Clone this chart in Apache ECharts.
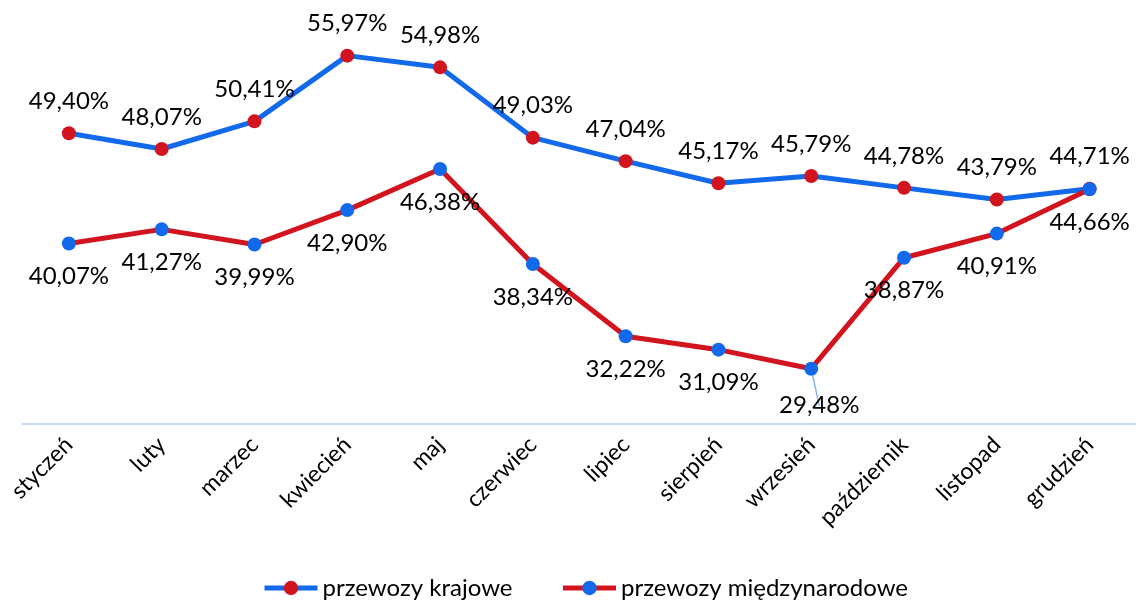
<!DOCTYPE html>
<html><head><meta charset="utf-8">
<script src="https://cdn.jsdelivr.net/npm/echarts@6/dist/echarts.min.js"></script>
<style>html,body{margin:0;padding:0;background:#fff}#c{width:1136px;height:601px}</style>
</head><body><div id="c"></div>
<script>
const categories = ['styczeń','luty','marzec','kwiecień','maj','czerwiec','lipiec','sierpień','wrzesień','październik','listopad','grudzień'];
const krajowe = [49.40, 48.07, 50.41, 55.97, 54.98, 49.03, 47.04, 45.17, 45.79, 44.78, 43.79, 44.71];
const miedzynarodowe = [40.07, 41.27, 39.99, 42.90, 46.38, 38.34, 32.22, 31.09, 29.48, 38.87, 40.91, 44.66];
const seriesNames = ['przewozy krajowe', 'przewozy międzynarodowe'];

const BLUE = '#1269ea', RED = '#d2141e';
const fmt = p => p.value.toFixed(2).replace('.', ',') + '%';
const FONT = 'Lato';

const chart = echarts.init(document.getElementById('c'), null, {renderer: 'canvas'});
chart.setOption({
  animation: false,
  textStyle: {fontFamily: FONT},
  grid: {left: 22.5, right: -2.5, top: 8, bottom: 177, containLabel: false},
  legend: {
    top: 571, left: 257, itemWidth: 53, itemHeight: 18, itemGap: 48, itemTextGap: 4,
    lineStyle: {width: 5},
    textStyle: {fontSize: 24, color: '#000', fontFamily: FONT},
    data: seriesNames
  },
  xAxis: {
    type: 'category', data: categories, boundaryGap: true,
    axisLine: {lineStyle: {color: '#c5daf2', width: 2}},
    axisTick: {show: false},
    axisLabel: {rotate: 45, fontSize: 23, color: '#000', margin: 17, fontFamily: FONT}
  },
  yAxis: {type: 'value', min: 24.8, max: 60, show: false, splitLine: {show: false}},
  series: [
    {
      name: seriesNames[0], type: 'line', data: krajowe,
      symbol: 'circle', symbolSize: 14,
      lineStyle: {color: BLUE, width: 5},
      itemStyle: {color: RED},
      label: {show: true, position: 'top', distance: 13, fontSize: 24, color: '#000', formatter: fmt, fontFamily: FONT}
    },
    {
      name: seriesNames[1], type: 'line',
      data: miedzynarodowe.map((v, i) => i === 8 ? {value: v, label: {offset: [8, 4]}, labelLine: {show: true, lineStyle: {color: '#8ab4ee', width: 1.5}}} : v),
      symbol: 'circle', symbolSize: 14,
      lineStyle: {color: RED, width: 5},
      itemStyle: {color: BLUE},
      label: {show: true, position: 'bottom', distance: 14, fontSize: 24, color: '#000', formatter: fmt, fontFamily: FONT}
    }
  ]
});
</script></body></html>
